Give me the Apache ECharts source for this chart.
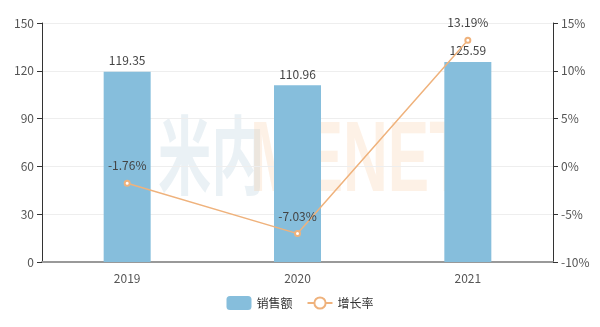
<!DOCTYPE html>
<html><head><meta charset="utf-8">
<script src="https://cdn.jsdelivr.net/npm/echarts@6/dist/echarts.min.js"></script>
<style>html,body{margin:0;padding:0;background:#fff}#c{width:600px;height:327px}</style>
</head><body><div id="c"></div>
<script>
const categories = ['2019', '2020', '2021'];
const sales = [119.35, 110.96, 125.59];
const growth = [-1.76, -7.03, 13.19];
const leftTicks = [0, 30, 60, 90, 120, 150];
const rightTicks = [-10, -5, 0, 5, 10, 15];

const chart = echarts.init(document.getElementById('c'));
const font = 'Microsoft YaHei, "Noto Sans CJK SC", sans-serif';
chart.setOption({
  animation: false,
  textStyle: { fontFamily: font },
  graphic: [
    { type: 'text', x: 158, y: 112, z: -10, silent: true, scaleX: 0.62,
      style: { text: '米内', fill: 'rgba(170,200,215,0.25)', font: 'bold 86px "Noto Sans CJK SC"' } },
    { type: 'text', x: 250, y: 113, z: -10, silent: true, scaleX: 0.62,
      style: { text: 'MENET', fill: 'rgba(245,190,140,0.22)', font: 'bold 100px "Liberation Sans"' } }
  ],
  grid: { left: 42, right: 47, top: 23, bottom: 65 },
  legend: {
    bottom: 12, left: 'center', itemWidth: 25, itemHeight: 14, itemGap: 14,
    textStyle: { color: '#333', fontSize: 12 },
    data: [{ name: '销售额' }, { name: '增长率' }]
  },
  xAxis: {
    type: 'category', data: categories,
    axisLine: { lineStyle: { color: '#999', width: 2 } },
    axisTick: { lineStyle: { color: '#999' } },
    axisLabel: { color: '#555', fontSize: 12, margin: 10 }
  },
  yAxis: [
    { type: 'value', min: leftTicks[0], max: leftTicks[leftTicks.length - 1], interval: 30,
      axisLine: { show: true, lineStyle: { color: '#333' } },
      axisTick: { show: true, lineStyle: { color: '#333' } },
      axisLabel: { color: '#555', fontSize: 12 },
      splitLine: { lineStyle: { color: '#eee' } } },
    { type: 'value', min: rightTicks[0], max: rightTicks[rightTicks.length - 1], interval: 5,
      axisLine: { show: true, lineStyle: { color: '#333' } },
      axisTick: { show: true, lineStyle: { color: '#333' } },
      axisLabel: { color: '#555', fontSize: 12, formatter: '{value}%' },
      splitLine: { show: false } }
  ],
  series: [
    { name: '销售额', type: 'bar', data: sales, barWidth: 47,
      itemStyle: { color: '#86bedc' },
      label: { show: true, position: 'top', color: '#444', fontSize: 12, distance: 5 } },
    { name: '增长率', type: 'line', yAxisIndex: 1, data: growth,
      symbol: 'emptyCircle', symbolSize: 5,
      lineStyle: { color: '#efb27c', width: 1.5 },
      itemStyle: { color: '#efb27c', borderWidth: 1 },
      label: { show: true, position: 'top', color: '#444', fontSize: 12, distance: 8,
        formatter: p => p.value + '%' } }
  ]
});
</script></body></html>
